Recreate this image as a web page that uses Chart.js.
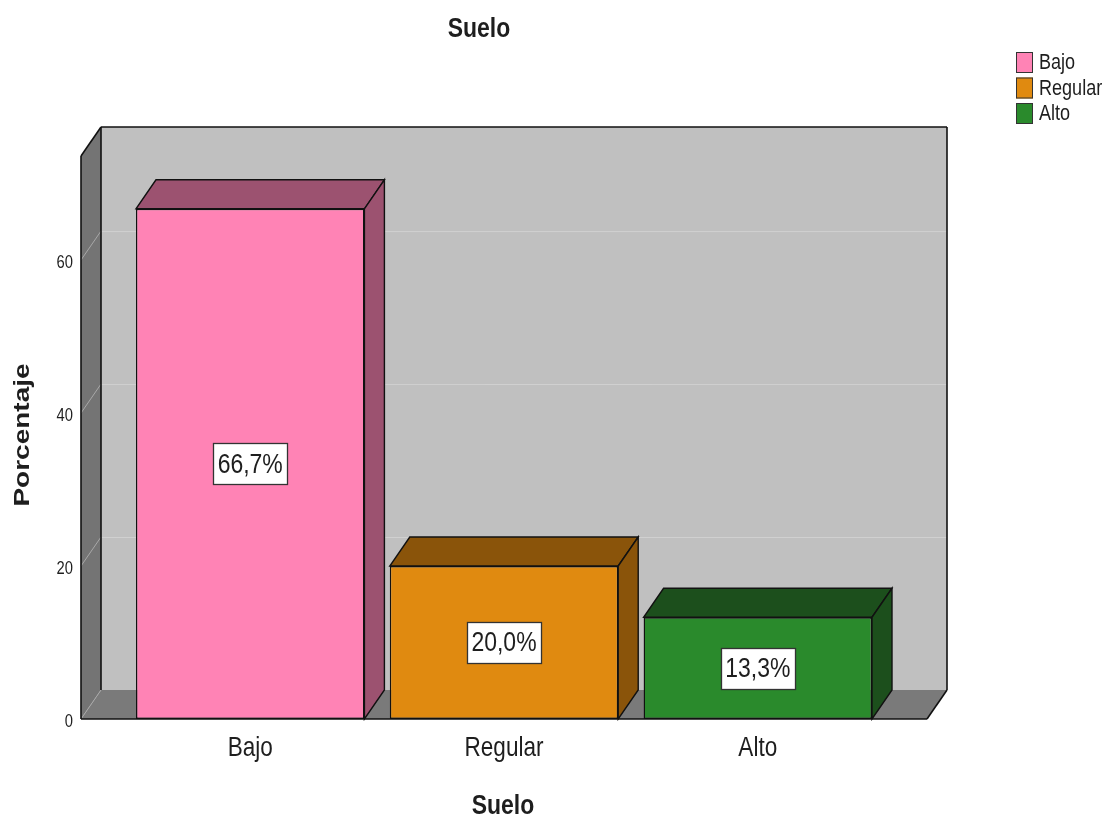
<!DOCTYPE html>
<html lang="es">
<head>
<meta charset="utf-8">
<title>Suelo</title>
<script src="https://cdn.jsdelivr.net/npm/chart.js@4.4.1/dist/chart.umd.min.js"></script>
<style>
  html, body { margin: 0; padding: 0; background: #ffffff; }
  #wrap { position: relative; width: 1108px; height: 818px; }
</style>
</head>
<body>
<div id="wrap"><canvas id="chart" width="1108" height="818"></canvas></div>
<script>
// Categories and percentages of the "Suelo" variable
const categories = ['Bajo', 'Regular', 'Alto'];
const percentages = [66.7, 20.0, 13.3];
const yTickValues = [0, 20, 40, 60];
const yMax = 73.6;

// Bar colours: front faces and the darker top/side faces
const frontColors = ['#FF83B5', '#E08A10', '#2A8A2C'];
const shadeColors = ['#9C5270', '#8A540A', '#1C4F1C'];

const chartTitle = 'Suelo';
const xAxisTitle = 'Suelo';
const yAxisTitle = 'Porcentaje';

const FAMILY = "'Liberation Sans', Arial, sans-serif";
const TEXT = '#1e1e1e';
// Condensed lettering: glyphs are squeezed horizontally
const SQUEEZE = 0.82;

// Depth of the box (pixels): back plane is shifted right and up
const DX = 20, DY = -29;

function poly(ctx, pts, fill, stroke, lw) {
  ctx.beginPath();
  ctx.moveTo(pts[0][0], pts[0][1]);
  for (let i = 1; i < pts.length; i++) ctx.lineTo(pts[i][0], pts[i][1]);
  ctx.closePath();
  if (fill) { ctx.fillStyle = fill; ctx.fill(); }
  if (stroke) { ctx.strokeStyle = stroke; ctx.lineWidth = lw || 1; ctx.stroke(); }
}
function line(ctx, x1, y1, x2, y2, color, lw) {
  ctx.beginPath();
  ctx.moveTo(x1, y1);
  ctx.lineTo(x2, y2);
  ctx.strokeStyle = color;
  ctx.lineWidth = lw;
  ctx.stroke();
}
// Draws condensed text anchored at (x, y)
function narrowText(ctx, text, x, y, font, align) {
  ctx.save();
  ctx.font = font;
  ctx.textAlign = align || 'center';
  ctx.textBaseline = 'middle';
  ctx.translate(x, y);
  ctx.scale(SQUEEZE, 1);
  ctx.fillStyle = TEXT;
  ctx.fillText(text, 0, 0);
  ctx.restore();
}
function narrowWidth(ctx, text, font) {
  ctx.save();
  ctx.font = font;
  const w = ctx.measureText(text).width * SQUEEZE;
  ctx.restore();
  return w;
}

const depthFrame = {
  id: 'depthFrame',
  beforeDraw(chart) {
    const ctx = chart.ctx;
    ctx.save();
    ctx.fillStyle = '#ffffff';
    ctx.fillRect(0, 0, chart.width, chart.height);
    ctx.restore();
  },
  beforeDatasetsDraw(chart) {
    const { ctx, chartArea: a, scales: { y } } = chart;
    const L = a.left, R = a.right, T = a.top, B = a.bottom;
    ctx.save();
    // back wall
    ctx.fillStyle = '#C0C0C0';
    ctx.fillRect(L + DX, T + DY, R - L, B - T);
    // left wall
    poly(ctx, [[L, T], [L + DX, T + DY], [L + DX, B + DY], [L, B]], '#747474');
    // floor
    poly(ctx, [[L, B], [R, B], [R + DX, B + DY], [L + DX, B + DY]], '#7A7A7A');
    // grid lines: across the back wall and diagonally on the left wall
    yTickValues.forEach(v => {
      const py = y.getPixelForValue(v);
      if (v > 0) line(ctx, L + DX, py + DY + 0.5, R + DX, py + DY + 0.5, '#D0D0D0', 1);
      line(ctx, L, py, L + DX, py + DY, '#A8A8A8', 1);
    });
    // frame edges
    const k = '#111111';
    line(ctx, L + DX, T + DY, R + DX, T + DY, k, 1.6);
    line(ctx, R + DX, T + DY, R + DX, B + DY, k, 1.6);
    line(ctx, L, T, L + DX, T + DY, k, 1.6);
    line(ctx, L + DX, T + DY, L + DX, B + DY, k, 1.6);
    line(ctx, L, T, L, B, k, 1.6);
    line(ctx, L, B, R, B, k, 1.6);
    line(ctx, R, B, R + DX, B + DY, k, 1.6);
    ctx.restore();
  },
  afterDatasetsDraw(chart) {
    const ctx = chart.ctx;
    const meta = chart.getDatasetMeta(0);
    ctx.save();
    meta.data.forEach((bar, i) => {
      const { x, y, base, width } = bar.getProps(['x', 'y', 'base', 'width'], true);
      const l = x - width / 2, r = x + width / 2;
      // top face
      poly(ctx, [[l, y], [r, y], [r + DX, y + DY], [l + DX, y + DY]], shadeColors[i], '#111', 1.4);
      // right side face
      poly(ctx, [[r, y], [r + DX, y + DY], [r + DX, base + DY], [r, base]], shadeColors[i], '#111', 1.4);
    });
    // value labels in the middle of each bar
    const font = '28px ' + FAMILY;
    meta.data.forEach((bar, i) => {
      const { x, y, base } = bar.getProps(['x', 'y', 'base'], true);
      const label = percentages[i].toFixed(1).replace('.', ',') + '%';
      const cy = (y + base) / 2;
      const w = Math.round(narrowWidth(ctx, label, font) + 9);
      const h = 41;
      const bx = Math.round(x - w / 2) + 0.5, by = Math.round(cy - h / 2) + 0.5;
      ctx.fillStyle = '#ffffff';
      ctx.fillRect(bx, by, w, h);
      ctx.strokeStyle = '#333333';
      ctx.lineWidth = 1.3;
      ctx.strokeRect(bx, by, w, h);
      narrowText(ctx, label, x, cy + 1, font, 'center');
    });
    ctx.restore();
  },
  afterDraw(chart) {
    const ctx = chart.ctx;
    const { x: xs, y: ys } = chart.scales;
    // tick labels
    xs.ticks.forEach(t => {
      narrowText(ctx, categories[t.value], xs.getPixelForValue(t.value), 748, '27.5px ' + FAMILY, 'center');
    });
    ys.ticks.forEach(t => {
      narrowText(ctx, String(t.value), chart.chartArea.left - 8, ys.getPixelForValue(t.value) + 3, '18px ' + FAMILY, 'right');
    });
    // chart title and x-axis title
    narrowText(ctx, chartTitle, 479, 29, 'bold 28px ' + FAMILY, 'center');
    narrowText(ctx, xAxisTitle, 503, 806, 'bold 28px ' + FAMILY, 'center');
    // y-axis title, rotated
    ctx.save();
    ctx.translate(23, 435);
    ctx.rotate(-Math.PI / 2);
    ctx.scale(1, SQUEEZE);
    ctx.font = 'bold 28px ' + FAMILY;
    ctx.textAlign = 'center';
    ctx.textBaseline = 'middle';
    ctx.fillStyle = TEXT;
    ctx.fillText(yAxisTitle, 0, 0);
    ctx.restore();
    // legend
    categories.forEach((c, i) => {
      const by = 52 + i * 25.5;
      ctx.save();
      ctx.fillStyle = frontColors[i];
      ctx.fillRect(1016, by, 17, 21);
      ctx.strokeStyle = '#333333';
      ctx.lineWidth = 1;
      ctx.strokeRect(1016.5, by + 0.5, 16, 20);
      ctx.restore();
      narrowText(ctx, c, 1039, by + 11, '22px ' + FAMILY, 'left');
    });
  }
};

new Chart(document.getElementById('chart'), {
  type: 'bar',
  data: {
    datasets: [{
      label: 'Porcentaje',
      data: percentages.map((v, i) => ({ x: i, y: v })),
      backgroundColor: frontColors,
      borderColor: '#111111',
      borderWidth: 1.4,
      borderSkipped: false,
      barPercentage: 0.9,
      categoryPercentage: 1.0
    }]
  },
  options: {
    responsive: false,
    animation: false,
    devicePixelRatio: 1,
    layout: { padding: { left: 0, top: 156, right: 181, bottom: 0 } },
    plugins: {
      legend: { display: false },
      title: { display: false },
      tooltip: { enabled: false }
    },
    scales: {
      x: {
        type: 'linear',
        offset: false,
        min: -2 / 3,
        max: 8 / 3,
        grid: { display: false, drawTicks: false },
        border: { display: false },
        afterBuildTicks: s => { s.ticks = categories.map((c, i) => ({ value: i })); },
        afterFit: s => { s.height = 99; },
        ticks: { display: false, callback: v => categories[v] }
      },
      y: {
        min: 0,
        max: yMax,
        grid: { display: false, drawTicks: false },
        border: { display: false },
        afterBuildTicks: s => { s.ticks = yTickValues.map(v => ({ value: v })); },
        afterFit: s => { s.width = 81; },
        ticks: { display: false }
      }
    }
  },
  plugins: [depthFrame]
});
</script>
</body>
</html>
